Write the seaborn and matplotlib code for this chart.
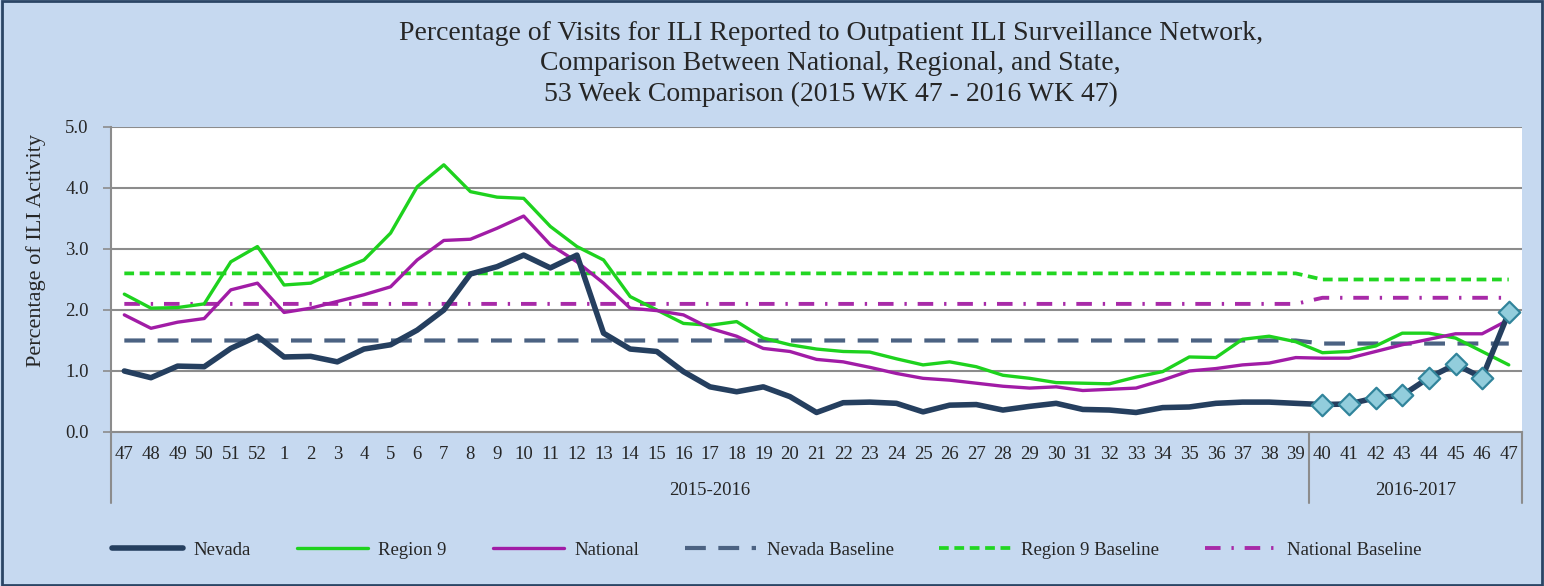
import pandas as pd
import matplotlib
matplotlib.use('Agg')
import matplotlib.pyplot as plt
import matplotlib.transforms as mtransforms
from matplotlib.patches import Rectangle
import seaborn as sns

# Week labels (2015 WK 47 - 2016 WK 47)
weeks = ['47', '48', '49', '50', '51', '52', '1', '2', '3', '4', '5', '6', '7', '8', '9',
         '10', '11', '12', '13', '14', '15', '16', '17', '18', '19', '20', '21', '22', '23',
         '24', '25', '26', '27', '28', '29', '30', '31', '32', '33', '34', '35', '36', '37',
         '38', '39', '40', '41', '42', '43', '44', '45', '46', '47']
seasons = ['2015-2016', '2016-2017']
season_weeks = [45, 8]

nevada = [1.00, 0.89, 1.08, 1.07, 1.37, 1.57, 1.23, 1.24, 1.15, 1.36, 1.43, 1.67, 2.00, 2.59,
          2.71, 2.90, 2.69, 2.90, 1.62, 1.36, 1.32, 0.99, 0.74, 0.66, 0.74, 0.58, 0.32, 0.48,
          0.49, 0.47, 0.33, 0.44, 0.45, 0.36, 0.42, 0.47, 0.37, 0.36, 0.32, 0.40, 0.41, 0.47,
          0.49, 0.49, 0.47, 0.45, 0.46, 0.56, 0.60, 0.89, 1.11, 0.89, 1.96]
region9 = [2.26, 2.03, 2.04, 2.10, 2.79, 3.04, 2.41, 2.44, 2.64, 2.82, 3.26, 4.02, 4.38, 3.94,
           3.85, 3.83, 3.37, 3.04, 2.82, 2.22, 2.00, 1.78, 1.75, 1.81, 1.54, 1.43, 1.36, 1.32,
           1.31, 1.20, 1.10, 1.15, 1.07, 0.93, 0.88, 0.81, 0.80, 0.79, 0.90, 0.99, 1.23, 1.22,
           1.52, 1.57, 1.48, 1.30, 1.32, 1.41, 1.62, 1.62, 1.54, 1.32, 1.10]
national = [1.92, 1.70, 1.80, 1.86, 2.33, 2.44, 1.96, 2.03, 2.14, 2.25, 2.38, 2.82, 3.14, 3.16,
            3.34, 3.54, 3.07, 2.79, 2.44, 2.03, 1.99, 1.92, 1.70, 1.57, 1.37, 1.32, 1.19, 1.15,
            1.06, 0.96, 0.88, 0.85, 0.80, 0.75, 0.72, 0.74, 0.68, 0.70, 0.72, 0.85, 1.00, 1.04,
            1.10, 1.13, 1.22, 1.21, 1.21, 1.32, 1.43, 1.52, 1.61, 1.61, 1.84]
nevada_base = [1.5] * 45 + [1.45] * 8
region9_base = [2.6] * 45 + [2.5] * 8
national_base = [2.1] * 45 + [2.2] * 8

df = pd.DataFrame({'week': range(len(weeks)), 'Nevada': nevada, 'Region 9': region9,
                   'National': national, 'Nevada Baseline': nevada_base,
                   'Region 9 Baseline': region9_base, 'National Baseline': national_base})

sns.set_style('white')
plt.rcParams['font.family'] = ['Liberation Serif', 'DejaVu Serif']

fig = plt.figure(figsize=(15.44, 5.86), dpi=100)
fig.patch.set_facecolor('#C6D9F0')
fig.patches.append(Rectangle((0.001, 0.002), 0.998, 0.996, transform=fig.transFigure,
                             fill=False, edgecolor='#2B4565', linewidth=2))
ax = fig.add_axes([0.0719, 0.2628, 0.9139, 0.5205])
ax.set_facecolor('white')

# Baselines
sns.lineplot(data=df, x='week', y='Nevada Baseline', ax=ax, color='#4B6282', linewidth=3,
             label='Nevada Baseline').lines[-1].set_dashes((5, 3))
sns.lineplot(data=df, x='week', y='Region 9 Baseline', ax=ax, color='#22D622', linewidth=2.7,
             label='Region 9 Baseline').lines[-1].set_dashes((2.6, 1.5))
sns.lineplot(data=df, x='week', y='National Baseline', ax=ax, color='#A82AA8', linewidth=2.8,
             label='National Baseline').lines[-1].set_dashes((4, 2.8, 0.6, 2.8))

# Surveillance series
sns.lineplot(data=df, x='week', y='Region 9', ax=ax, color='#1ED21E', linewidth=2.4,
             label='Region 9')
sns.lineplot(data=df, x='week', y='National', ax=ax, color='#A11CA6', linewidth=2.4,
             label='National')
sns.lineplot(data=df, x='week', y='Nevada', ax=ax, color='#253F5F', linewidth=4,
             label='Nevada', solid_capstyle='round')
cur = df.iloc[season_weeks[0]:]
sns.scatterplot(data=cur, x='week', y='Nevada', ax=ax, marker='D', s=120, color='#92CDDC',
                edgecolor='#31849B', linewidth=1.6, zorder=6, legend=False)

ax.set_xlim(-0.5, len(weeks) - 0.5)
ax.set_ylim(0, 5)
ax.set_yticks([0, 1, 2, 3, 4, 5])
ax.set_yticklabels([f'{v:.1f}' for v in [0, 1, 2, 3, 4, 5]])
ax.set_xticks(range(len(weeks)))
ax.set_xticklabels(weeks)
ax.yaxis.grid(True, color='#8C8C8C', linewidth=1.5)
ax.set_axisbelow(True)
ax.tick_params(axis='x', length=0, pad=10, labelsize=13.5)
ax.tick_params(axis='y', length=6, width=1.2, color='#8C8C8C', pad=10, labelsize=13.5,
               left=True)
for side in ['top', 'right']:
    ax.spines[side].set_visible(False)
for side in ['left', 'bottom']:
    ax.spines[side].set_color('#8C8C8C')
    ax.spines[side].set_linewidth(1.5)
ax.set_xlabel('')
ax.set_ylabel('Percentage of ILI Activity', fontsize=16)
ax.yaxis.set_label_coords(-0.046, 0.595)

# Season grouping under the week labels
trans = mtransforms.blended_transform_factory(ax.transData, ax.transAxes)
start = -0.5
ax.plot([start, start], [0, -0.233], transform=trans, color='#8C8C8C', lw=1.5, clip_on=False)
for name, n in zip(seasons, season_weeks):
    end = start + n
    ax.plot([end, end], [0, -0.233], transform=trans, color='#8C8C8C', lw=1.5, clip_on=False)
    ax.text((start + end) / 2, -0.193, name, transform=trans, ha='center', va='center',
            fontsize=13.5)
    start = end

fig.text(0.538, 0.965, 'Percentage of Visits for ILI Reported to Outpatient ILI Surveillance Network,\n'
         'Comparison Between National, Regional, and State,\n'
         '53 Week Comparison (2015 WK 47 - 2016 WK 47)',
         ha='center', va='top', fontsize=20, linespacing=1.3)

handles, labels = ax.get_legend_handles_labels()
order = ['Nevada', 'Region 9', 'National', 'Nevada Baseline', 'Region 9 Baseline',
         'National Baseline']
lookup = dict(zip(labels, handles))
ax.get_legend().remove()
fig.legend([lookup[k] for k in order], order, loc='center', bbox_to_anchor=(0.4964, 0.061),
           ncol=6, frameon=False, fontsize=13.5, handlelength=3.8, handletextpad=0.55,
           columnspacing=2.45)

fig.savefig('out.png', dpi=100, facecolor=fig.get_facecolor())
